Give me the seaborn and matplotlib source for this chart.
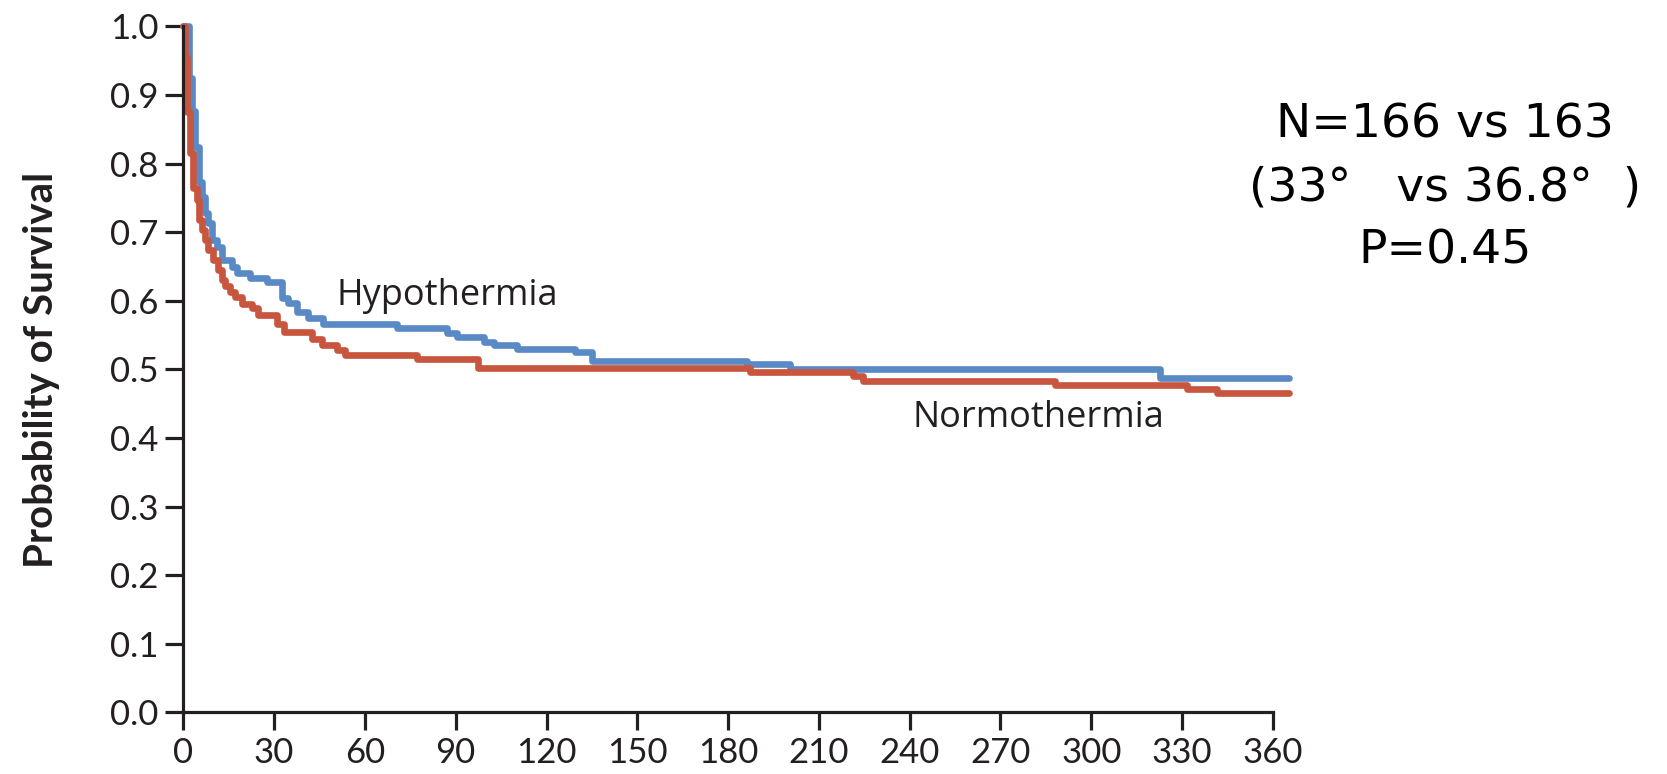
import matplotlib
matplotlib.use("Agg")
import matplotlib.pyplot as plt
import seaborn as sns
import pandas as pd

# Kaplan-Meier step values (day of step, survival probability after the step)
hypo_days = [0, 1.7, 2.8, 3.9, 5.0, 6.1, 7.2, 8.3, 9.4, 11.0, 12.7, 16.0, 17.6, 22.0,
             27.6, 32.5, 34.7, 37.5, 41.3, 46.3, 70.5, 87.1, 90.4, 99.2, 102.5, 110.2,
             129.4, 135.0, 186.2, 200.5, 322.8, 365.5]
hypo_surv = [1.0, 0.925, 0.877, 0.825, 0.774, 0.752, 0.728, 0.713, 0.689, 0.679, 0.660,
             0.650, 0.640, 0.633, 0.627, 0.604, 0.597, 0.584, 0.575, 0.566, 0.560, 0.553,
             0.548, 0.540, 0.536, 0.530, 0.525, 0.513, 0.508, 0.500, 0.488, 0.488]

normo_days = [0, 0.5, 1.1, 2.2, 3.3, 4.4, 5.0, 6.1, 7.2, 8.3, 9.9, 11.6, 12.7, 13.8,
              15.4, 17.1, 19.3, 22.6, 24.8, 30.8, 33.1, 42.4, 45.7, 50.7, 53.4, 77.1,
              97.5, 187.3, 221.4, 224.7, 288.0, 331.6, 341.5, 365.5]
normo_surv = [1.0, 0.955, 0.875, 0.815, 0.764, 0.747, 0.718, 0.704, 0.689, 0.674, 0.660,
              0.645, 0.630, 0.621, 0.613, 0.606, 0.596, 0.589, 0.579, 0.567, 0.555, 0.545,
              0.536, 0.528, 0.521, 0.515, 0.502, 0.496, 0.490, 0.483, 0.477, 0.471, 0.465,
              0.465]

groups = ["Hypothermia", "Normothermia"]
colors = {"Hypothermia": "#5A8AC6", "Normothermia": "#C8553D"}

x_ticks = list(range(0, 361, 30))
y_ticks = [round(0.1 * i, 1) for i in range(11)]

annotation = "N=166 vs 163\n(33°   vs 36.8°  )\nP=0.45"

df = pd.concat([
    pd.DataFrame({"day": hypo_days, "surv": hypo_surv, "group": groups[0]}),
    pd.DataFrame({"day": normo_days, "surv": normo_surv, "group": groups[1]}),
], ignore_index=True)

sns.set_theme(style="white")
plt.rcParams["font.family"] = ["Lato", "DejaVu Sans"]

ink = "#231F20"
fig = plt.figure(figsize=(16.67, 7.74), dpi=100)
ax = fig.add_axes([0.110, 0.0795, 0.6717, 0.8863])

sns.lineplot(data=df, x="day", y="surv", hue="group", hue_order=groups,
             palette=colors, estimator=None, drawstyle="steps-post",
             linewidth=4.8, solid_capstyle="round", legend=False, ax=ax)
for line in ax.lines:
    line.set_clip_on(False)

ax.set_xlim(0, 370)
ax.set_ylim(0, 1.0)
ax.set_xticks(x_ticks)
ax.set_yticks(y_ticks)
ax.set_xticklabels([str(t) for t in x_ticks])
ax.set_yticklabels([f"{t:.1f}" for t in y_ticks])

for side in ("top", "right"):
    ax.spines[side].set_visible(False)
ax.spines["bottom"].set_bounds(0, 360)
ax.spines["left"].set_bounds(0, 1.0)
for side in ("left", "bottom"):
    ax.spines[side].set_linewidth(2.3)
    ax.spines[side].set_color(ink)

ax.tick_params(axis="both", direction="out", length=13, width=2.3, color=ink,
               labelsize=25, labelcolor=ink, pad=5)
ax.tick_params(axis="x", bottom=True)
ax.tick_params(axis="y", left=True)

ax.set_xlabel("")
ax.set_ylabel("Probability of Survival", fontsize=29, fontweight="bold",
              color=ink, labelpad=36)

ax.text(50.7, 0.594, "Hypothermia", fontsize=26, color=ink,
        family=["Open Sans", "DejaVu Sans"], ha="left", va="baseline")
ax.text(240.9, 0.416, "Normothermia", fontsize=26, color=ink,
        family=["Open Sans", "DejaVu Sans"], ha="left", va="baseline")

fig.text(0.867, 0.868, annotation, fontsize=34, color="black",
         family=["DejaVu Sans"], ha="center", va="top", linespacing=1.52,
         multialignment="center")

fig.savefig("out.png", dpi=100)
